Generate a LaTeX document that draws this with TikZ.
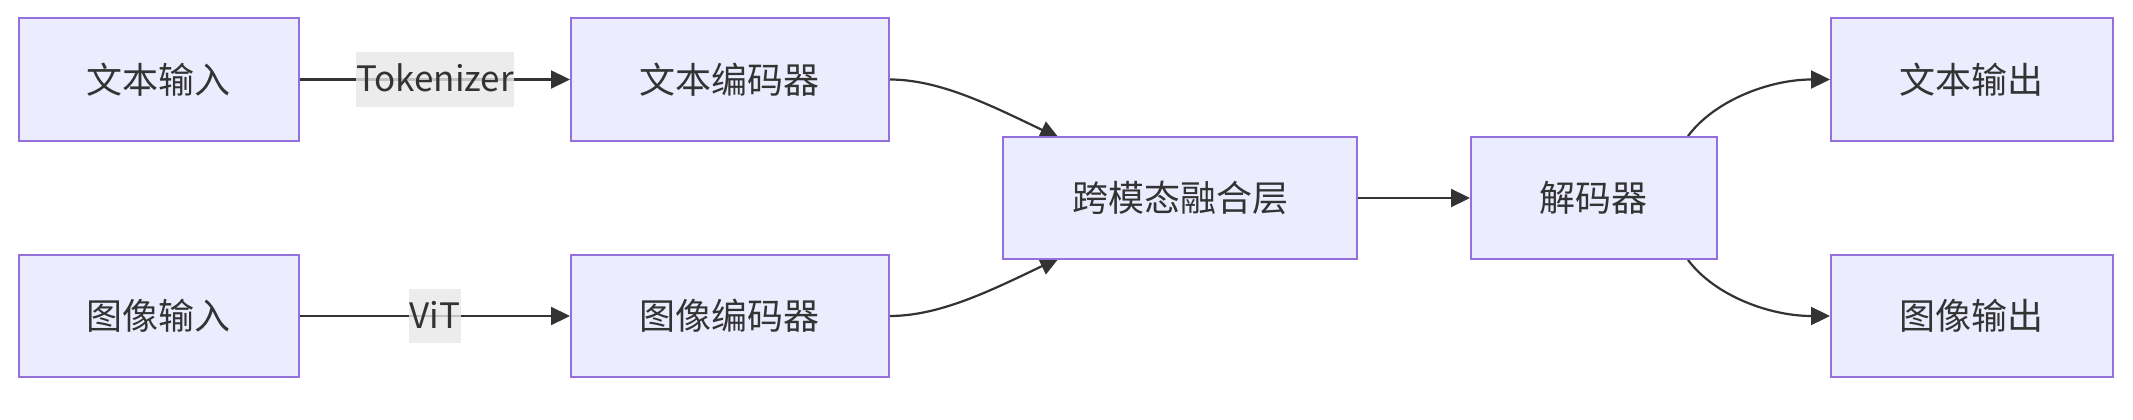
\documentclass[tikz,border=0pt]{standalone}
\usepackage{fontspec}
\setmainfont{Noto Sans CJK SC}
\usetikzlibrary{arrows.meta,calc}
\definecolor{boxfill}{HTML}{ECECFF}
\definecolor{boxline}{HTML}{9370DB}
\definecolor{ink}{HTML}{333333}
\definecolor{lblbg}{HTML}{E8E8E8}
\pgfdeclarelayer{paper}
\pgfdeclarelayer{edges}
\pgfsetlayers{paper,edges,main}
\begin{document}
\begin{tikzpicture}[x=1pt,y=-1pt,
  box/.style={draw=boxline, fill=boxfill, line width=2pt, minimum height=122.4pt,
    text=ink, font=\fontsize{36}{43}\selectfont, inner sep=0pt},
  edge/.style={draw=ink, line width=2.2pt, -{Triangle[length=19pt,width=18pt]}},
  lbl/.style={fill=lblbg, fill opacity=0.8, text opacity=1, text=ink,
    font=\fontsize{35}{42}\selectfont, inner xsep=0.5pt, inner ysep=0pt,
    text height=39.4pt, text depth=15pt}]
\useasboundingbox (0,0) rectangle (2133,420);
\begin{pgfonlayer}{paper}
\fill[white] (0,0) rectangle (2133,420);
\end{pgfonlayer}

\node[box, minimum width=280.5pt] (tin)  at (158.75,79.5) {文本输入};
\node[box, minimum width=317.5pt] (tenc) at (729.75,79.5) {文本编码器};
\node[box, minimum width=280.5pt] (iin)  at (158.75,316) {图像输入};
\node[box, minimum width=317.5pt] (ienc) at (729.75,316) {图像编码器};
\node[box, minimum width=354pt, minimum height=122pt] (fus) at (1180,198) {跨模态融合层};
\node[box, minimum width=245.5pt, minimum height=122pt] (dec) at (1593.75,198) {解码器};
\node[box, minimum width=281.5pt] (tout) at (1971.75,79.5) {文本输出};
\node[box, minimum width=281.5pt] (iout) at (1971.75,316) {图像输出};

\begin{pgfonlayer}{edges}
\draw[edge] (tin) -- node[lbl] (ltok) {Tokenizer} (tenc);
\draw[edge] (iin) -- node[lbl] (lvit) {ViT} (ienc);
\draw[edge] (tenc.east) .. controls ($(tenc.east)+(50,0)$) and ($(fus.north west)+(-12,-31)$) .. ($(fus.north west)+(57,2)$);
\draw[edge] (ienc.east) .. controls ($(ienc.east)+(50,0)$) and ($(fus.south west)+(-12,31)$) .. ($(fus.south west)+(57,-2)$);
\draw[edge] (fus) -- (dec);
\draw[edge] ($(dec.north east)+(-29.5,0)$) .. controls ($(dec.north east)+(-2.5,-36)$) and ($(tout.west)+(-60,0)$) .. (tout.west);
\draw[edge] ($(dec.south east)+(-29.5,0)$) .. controls ($(dec.south east)+(-2.5,36)$) and ($(iout.west)+(-60,0)$) .. (iout.west);
\end{pgfonlayer}
\end{tikzpicture}
\end{document}
